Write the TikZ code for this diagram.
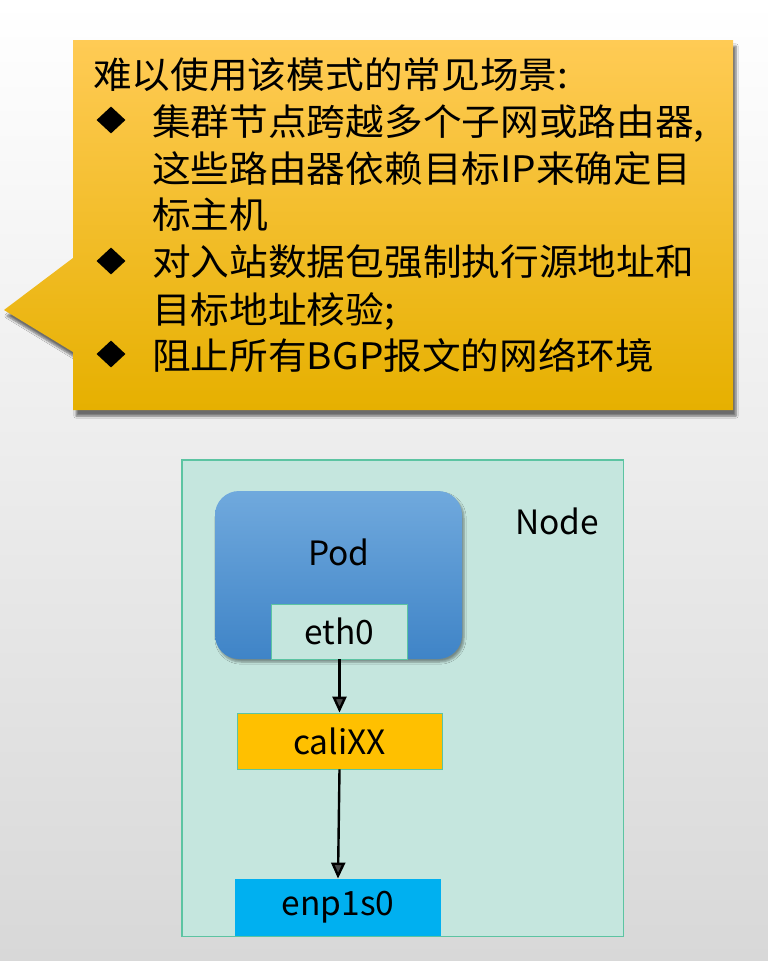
\documentclass[tikz,border=0pt]{standalone}
\usepackage{fontspec}
\setmainfont{Noto Sans CJK SC}
\newfontfamily\cjkwide[FakeStretch=1.06]{Noto Sans CJK SC}
\newfontfamily\cjk{Noto Sans CJK SC}
\usetikzlibrary{arrows.meta,shapes.geometric,shadows.blur}
\definecolor{bggray}{HTML}{D8D8D8}
\definecolor{calltop}{HTML}{FFCB55}
\definecolor{callmid}{HTML}{FFC402}
\definecolor{callbot}{HTML}{E6B000}
\definecolor{nodefill}{HTML}{C5E6DE}
\definecolor{nodeline}{HTML}{5CC4A2}
\definecolor{podtop}{HTML}{70A9DD}
\definecolor{podbot}{HTML}{3F84C7}
\definecolor{califill}{HTML}{FFC000}
\definecolor{enpfill}{HTML}{00B0F0}
\begin{document}
\begin{tikzpicture}[x=1pt,y=-1pt,
  calltext/.style={anchor=base west, inner sep=0, font=\cjkwide\fontsize{36.5}{40}\selectfont},
  bulletmark/.style={diamond, fill=black, minimum width=29pt, minimum height=27pt, inner sep=0},
  ifbox/.style={draw=nodeline, line width=0.8pt, inner sep=0, font=\cjk\fontsize{33.5}{38}\selectfont},
  lbl/.style={inner sep=0, font=\cjk\fontsize{33.5}{38}\selectfont},
  flow/.style={-{Triangle[length=16pt,width=14pt]}, line width=2.4pt}
]
\useasboundingbox (0,0) rectangle (768,961);
\shade[top color=white, bottom color=bggray] (0,0) rectangle (768,961);

% callout
\path[top color=calltop, middle color=callmid, bottom color=callbot,
  blur shadow={shadow xshift=3pt, shadow yshift=-6pt, shadow blur steps=6, shadow opacity=55}]
  (73,40) -- (733,40) -- (733,410) -- (73,410) -- (73,352) -- (4,310) -- (73,258) -- cycle;

\node[calltext] (t0) at (93,88) {难以使用该模式的常见场景:};
\node[bulletmark] (b1) at (111,120) {};
\node[calltext] (t1) at (152,135) {集群节点跨越多个子网或路由器,};
\node[calltext] (t2) at (152,182) {这些路由器依赖目标IP来确定目};
\node[calltext] (t3) at (152,228) {标主机};
\node[bulletmark] (b2) at (111,261) {};
\node[calltext] (t4) at (152,275) {对入站数据包强制执行源地址和};
\node[calltext] (t5) at (152,323) {目标地址核验;};
\node[bulletmark] (b3) at (111,354) {};
\node[calltext] (t6) at (152,369) {阻止所有BGP报文的网络环境};

% node box
\node[draw=nodeline, line width=1pt, fill=nodefill, minimum width=441pt, minimum height=476pt, inner sep=0] (nodebox) at (402.5,698) {};
\node[lbl] (nodelabel) at (557,521) {Node};

% pod
\node[rounded corners=24pt, top color=podtop, bottom color=podbot, minimum width=247pt, minimum height=168pt, inner sep=0,
  blur shadow={shadow xshift=2pt, shadow yshift=-3pt, shadow blur steps=5, shadow opacity=40}] (pod) at (338.5,575) {};
\node[lbl] (podlabel) at (339,552) {Pod};

\node[ifbox, fill=nodefill, minimum width=136pt, minimum height=55pt] (eth) at (339.5,631.5) {eth0};
\node[ifbox, fill=califill, minimum width=205pt, minimum height=56pt] (cali) at (339.5,741) {caliXX};
\node[ifbox, draw=none, fill=enpfill, minimum width=206pt, minimum height=57pt] (enp) at (338,907.5) {enp1s0};
\draw[nodeline, line width=1pt] (nodebox.south west) rectangle (nodebox.north east);

\draw[flow] (eth.south) -- (cali.north);
\draw[flow] (cali.south) -- (enp.north);
\end{tikzpicture}
\end{document}
